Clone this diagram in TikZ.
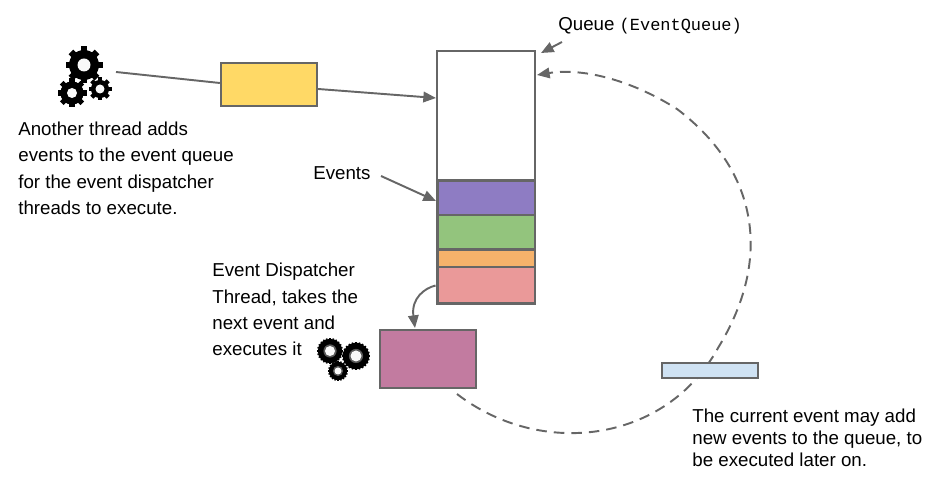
\documentclass[tikz,border=0pt]{standalone}
\usepackage{fontspec}
\setmainfont{Liberation Sans}
\setmonofont{Liberation Mono}
\definecolor{linegray}{HTML}{666666}
\definecolor{threadyellow}{HTML}{FFD966}
\definecolor{eventpurple}{HTML}{8E7CC3}
\definecolor{eventgreen}{HTML}{93C47D}
\definecolor{eventorange}{HTML}{F6B26B}
\definecolor{eventpink}{HTML}{EA9999}
\definecolor{dispatchmauve}{HTML}{C27BA0}
\definecolor{currentblue}{HTML}{CFE2F3}
\usetikzlibrary{arrows.meta}
\tikzset{
  box/.style={draw=linegray,line width=1.35pt,inner sep=0pt,minimum width=1.92cm},
  stackbox/.style={box,line width=1.7pt,minimum width=1.96cm},
  caption/.style={anchor=north west,align=left,inner sep=0pt,font=\fontsize{10.65}{14.4}\selectfont},
  conn/.style={draw=linegray,line width=1.1pt},
  tip/.style={-{Triangle[length=7.2pt,width=6pt]}}
}
% x y outer-radius hole-radius teeth tooth-size ring-colour
\newcommand{\gearicon}[7]{
  \foreach \a in {1,...,#5}
    \fill[black,shift={(#1,#2)},rotate=\a*360/#5] (#3-2*#6,-#6) rectangle (#3,#6);
  \fill[black] (#1,#2) circle[radius=#3-1.1*#6];
  \fill[#7] (#1,#2) circle[radius=#4+1.6];
  \fill[white!95!gray] (#1,#2) circle[radius=#4];
}
\begin{document}
\begin{tikzpicture}[x=0.02cm,y=-0.02cm]
  \useasboundingbox (0,0) rectangle (933,499);

  % gears, top left
  \gearicon{84}{65}{18.5}{6.5}{8}{3.2}{black}
  \gearicon{72}{93}{14.5}{5}{8}{2.6}{black}
  \gearicon{100}{89}{11.5}{4.5}{8}{2.2}{black}
  % gears next to the dispatcher
  \gearicon{330}{351}{13}{5}{24}{0.7}{black!65}
  \gearicon{356}{356}{14}{5.5}{24}{0.7}{black!65}
  \gearicon{338}{371}{10}{3.5}{20}{0.7}{black!65}

  \coordinate (gearsout) at (116,72);
  \coordinate (queuein) at (436,98);
  \coordinate (eventsin) at (436,201);
  \coordinate (queuetip) at (541,53);
  \coordinate (loopstart) at (457,394);
  \coordinate (looptip) at (537,75);

  % dashed curve goes under the blue box
  \draw[conn,tip,dash pattern=on 6pt off 4pt] (loopstart)
    .. controls (540,458) and (665,444) .. (718,348)
    .. controls (775,255) and (755,168) .. (677,109)
    .. controls (628,78) and (580,68) .. (looptip);

  \node[box,fill=threadyellow,minimum height=0.86cm] (producer) at (269,84.5) {};
  \node[box,fill=white,minimum width=1.96cm,minimum height=2.6cm] (queue) at (486,116) {};
  \node[stackbox,fill=eventpurple,minimum height=0.7cm] (purple) at (486,198) {};
  \node[stackbox,fill=eventgreen,minimum height=0.7cm] (green) at (486,232.5) {};
  \node[stackbox,fill=eventorange,minimum height=0.34cm] (orange) at (486,258.5) {};
  \node[stackbox,fill=eventpink,minimum height=0.74cm] (pink) at (486,285.5) {};
  \node[box,fill=dispatchmauve,minimum height=1.16cm] (dispatcher) at (428,359) {};
  \node[box,fill=currentblue,minimum height=0.3cm] (current) at (710,370.5) {};

  \node[caption] (anotherlabel) at (18,121.5) {Another thread adds\\[0.6pt]events to the event queue\\[0.6pt]for the event dispatcher\\[0.6pt]threads to execute.};
  \node[caption] (queuelabel) at (558,17) {Queue {\ttfamily\fontsize{9.65}{14}\selectfont (EventQueue)}};
  \node[caption] (eventslabel) at (313,166) {Events};
  \node[caption] (dispatchlabel) at (212,263) {Event Dispatcher\\[0.6pt]Thread, takes the\\[0.6pt]next event and\\[0.6pt]executes it};
  \node[caption] (currentlabel) at (692,409) {The current event may add\\[-2pt]new events to the queue, to\\[-2pt]be executed later on.};

  \draw[conn] (gearsout) -- (producer.west |- 0,83);
  \draw[conn,tip] (producer.east |- 0,89) -- (queuein);
  \draw[conn,tip] (562,42) -- (queuetip);
  \draw[conn,tip] (381,176) -- (eventsin);
  \draw[conn,tip] (pink.west) .. controls (425,288) and (411,298) .. (415,328);
\end{tikzpicture}
\end{document}
